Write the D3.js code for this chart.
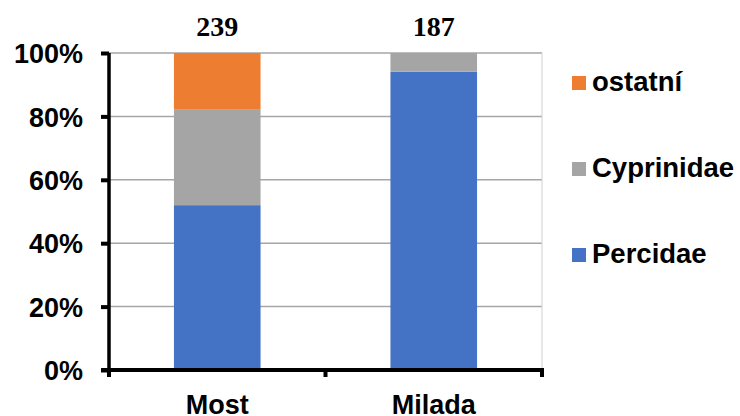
<!DOCTYPE html>
<html><head><meta charset="utf-8">
<script src="https://cdn.jsdelivr.net/npm/d3@7"></script>
<style>body{margin:0;background:#fff}svg{display:block}</style>
</head><body>
<svg id="c" width="740" height="416"></svg>
<script>
const categories = ["Most", "Milada"];
const totals = ["239", "187"];
const percidae = [52.0, 94.1];
const cyprinidae = [30.3, 5.9];
const ostatni = [17.7, 0];
const seriesNames = ["Percidae", "Cyprinidae", "ostatní"];
const seriesColors = ["#4472C4", "#A5A5A5", "#ED7D31"];
const yTicks = [0, 20, 40, 60, 80, 100];

const svg = d3.select("#c");
const m = {left: 109, right: 542, top: 53, bottom: 370};
const x = d3.scaleBand().domain(categories).range([m.left, m.right]).paddingInner(0.6).paddingOuter(0.3);
const y = d3.scaleLinear().domain([0, 100]).range([m.bottom, m.top]);

const rows = categories.map((c, i) => ({cat: c, Percidae: percidae[i], Cyprinidae: cyprinidae[i], "ostatní": ostatni[i]}));
const stack = d3.stack().keys(seriesNames)(rows);

// gridlines
svg.append("g").selectAll("line").data(yTicks.filter(d => d > 0)).join("line")
  .attr("x1", m.left).attr("x2", m.right).attr("y1", d => y(d)).attr("y2", d => y(d))
  .attr("stroke", "#A6A6A6").attr("stroke-width", 1.5);
// right border
svg.append("line").attr("x1", m.right).attr("x2", m.right).attr("y1", m.top).attr("y2", m.bottom)
  .attr("stroke", "#D0D0D0").attr("stroke-width", 1);

// bars
stack.forEach((s, si) => {
  svg.append("g").attr("fill", seriesColors[si]).selectAll("rect").data(s).join("rect")
    .attr("x", d => x(d.data.cat)).attr("width", x.bandwidth())
    .attr("y", d => y(d[1])).attr("height", d => y(d[0]) - y(d[1]));
});

// y axis
const yAxis = svg.append("g").attr("transform", `translate(${m.left},0)`)
  .call(d3.axisLeft(y).tickValues(yTicks).tickFormat(d => d + "%").tickSize(8).tickPadding(18));
yAxis.select(".domain").attr("stroke", "#000").attr("stroke-width", 3.5).attr("d", `M0,${m.top}V${m.bottom + 6}`);
yAxis.selectAll(".tick line").attr("stroke", "#000").attr("stroke-width", 4);
yAxis.selectAll(".tick text").attr("font-family", "Liberation Sans, Arial, sans-serif")
  .attr("font-weight", "bold").attr("font-size", 27).attr("fill", "#000").attr("dy", "0.36em");

// x axis
const xg = svg.append("g").attr("transform", `translate(0,${m.bottom})`);
xg.append("line").attr("x1", m.left - 8).attr("x2", m.right + 2).attr("y1", 0).attr("y2", 0)
  .attr("stroke", "#000").attr("stroke-width", 4);
const bounds = [m.left, (m.left + m.right) / 2, m.right];
xg.selectAll("line.t").data(bounds).join("line").attr("class", "t")
  .attr("x1", d => d).attr("x2", d => d).attr("y1", 0).attr("y2", 7)
  .attr("stroke", "#000").attr("stroke-width", 4);
xg.selectAll("text").data(categories).join("text")
  .attr("x", d => x(d) + x.bandwidth() / 2).attr("y", 44).attr("text-anchor", "middle")
  .attr("font-family", "Liberation Sans, Arial, sans-serif").attr("font-weight", "bold")
  .attr("font-size", 27).text(d => d);

// totals
svg.append("g").selectAll("text").data(categories).join("text")
  .attr("x", d => x(d) + x.bandwidth() / 2).attr("y", 36).attr("text-anchor", "middle")
  .attr("font-family", "Liberation Serif, Times New Roman, serif").attr("font-weight", "bold")
  .attr("font-size", 28).text((d, i) => totals[i]);

// legend
const legendOrder = [2, 1, 0];
const lg = svg.append("g").selectAll("g").data(legendOrder).join("g")
  .attr("transform", (d, i) => `translate(572,${83 + i * 86})`);
lg.append("rect").attr("x", 0).attr("y", -7).attr("width", 14).attr("height", 14).attr("fill", d => seriesColors[d]);
lg.append("text").attr("x", 20).attr("y", 8)
  .attr("font-family", "Liberation Sans, Arial, sans-serif").attr("font-weight", "bold")
  .attr("font-size", 27.5).text(d => seriesNames[d]);
</script>
</body></html>
